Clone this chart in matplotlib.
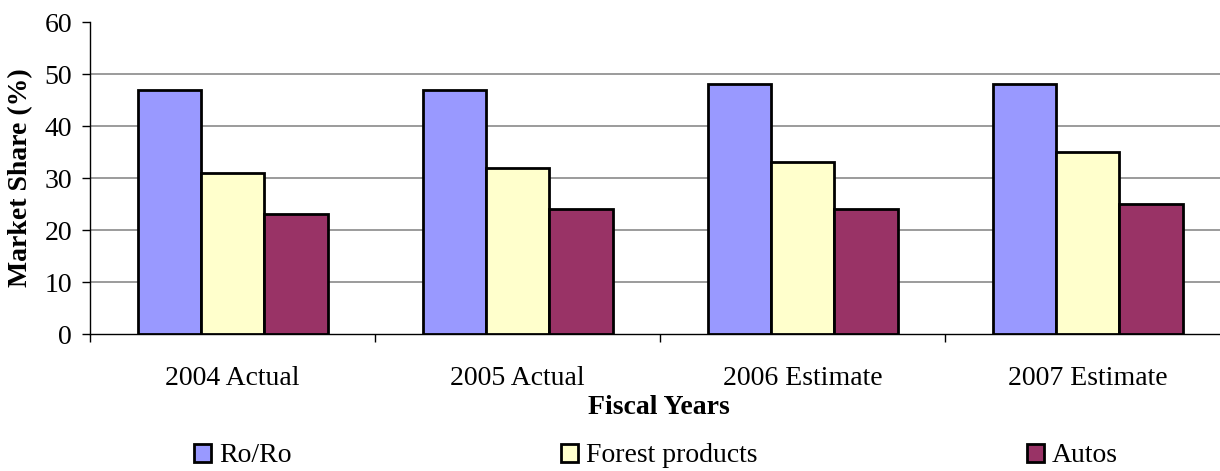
import matplotlib.pyplot as plt
import numpy as np

plt.rcParams['font.family'] = ['Liberation Serif', 'DejaVu Serif']
plt.rcParams['font.size'] = 20

years = ["2004 Actual", "2005 Actual", "2006 Estimate", "2007 Estimate"]
series = ["Ro/Ro", "Forest products", "Autos"]
ro_ro = [47, 47, 48, 48]
forest = [31, 32, 33, 35]
autos = [23, 24, 24, 25]
colors = ["#9999FF", "#FFFFCC", "#993366"]

fig = plt.figure(figsize=(12.2, 4.71), dpi=100)
# axes runs a bit past the right edge, as in the exported sheet
ax = fig.add_axes([90 / 1220, 137 / 471, 1140 / 1220, 312 / 471])

x = np.arange(len(years)) + 0.5
w = 1 / 4.5
for i, (vals, name) in enumerate(zip([ro_ro, forest, autos], series)):
    ax.bar(x + (i - 1) * w, vals, w, color=colors[i], edgecolor="black",
           linewidth=2.0, label=name, zorder=3)

ax.set_xlim(0, 4)
ax.set_ylim(0, 60)
ax.set_yticks(range(0, 61, 10))
for yv in range(10, 60, 10):
    ax.axhline(yv, color="#808080", linewidth=1.1, zorder=1)

ax.set_xticks(x)
ax.set_xticklabels(years)
ax.set_xticks(np.arange(0, 5), minor=True)
ax.tick_params(axis="x", which="major", length=0, pad=23)
ax.tick_params(axis="x", which="minor", length=6, width=1, direction="out")
ax.tick_params(axis="y", length=6, width=1, pad=7)

for s in ["top", "right"]:
    ax.spines[s].set_visible(False)
ax.spines["left"].set_linewidth(1)
ax.spines["bottom"].set_linewidth(1)

ax.set_ylabel("Market Share (%)", fontweight="bold", labelpad=8)
fig.text(659 / 1220, (471 - 408) / 471, "Fiscal Years", ha="center",
         va="center", fontweight="bold")

fig.legend(loc="center", bbox_to_anchor=(656 / 1220, 15 / 471), ncol=3,
           frameon=False, handlelength=0.6, handleheight=0.6,
           handletextpad=0.3, columnspacing=9.7, borderpad=0)

fig.savefig("out.png", dpi=100)
